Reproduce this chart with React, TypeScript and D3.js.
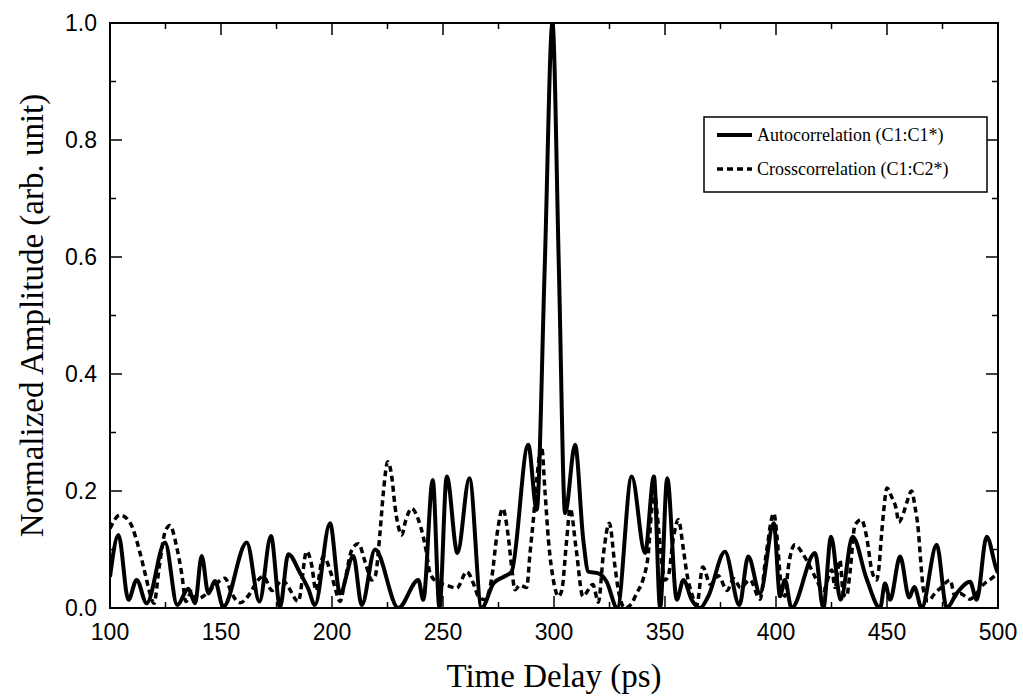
import * as d3 from "d3";

const W = 1023;
const H = 699;
const left = 110;
const right = 998;
const top = 23;
const bottom = 608;

// time delay (ps), normalized amplitude
const autocorrelation: [number, number][] = [
  [100, 0.053], [103.8, 0.125], [108.3, 0.014], [112, 0.048], [116.5, 0.008],
  [124.8, 0.112], [130.3, 0.005], [135.3, 0.033], [138.3, 0.008], [141.3, 0.089],
  [144.3, 0.025], [147.3, 0.046], [151, 0.002], [161.6, 0.112], [167.3, 0.011],
  [172.5, 0.123], [176.6, 0.002], [180.3, 0.092], [185.6, 0.06], [189.3, 0.033],
  [192.3, 0.005], [199.1, 0.145], [203.6, 0.025], [209.6, 0.089], [213.4, 0.005],
  [219.4, 0.1], [229.9, 0.0], [238.9, 0.048], [241.1, 0.014], [245.4, 0.219],
  [248.4, 0.0], [251.7, 0.225], [256.5, 0.094], [261.9, 0.222], [267.4, 0.0],
  [272.7, 0.042], [277.2, 0.053], [280.9, 0.062], [288.4, 0.279], [292.2, 0.168],
  [295.8, 0.58], [299.3, 1.0], [302.2, 0.58], [305, 0.162], [309.5, 0.279],
  [313.2, 0.116], [315.5, 0.062], [320, 0.059], [323.7, 0.045], [328.5, 0.0],
  [335, 0.225], [341, 0.094], [345, 0.225], [347.8, 0.0], [351, 0.222],
  [355.3, 0.014], [358.3, 0.048], [362, 0.014], [365.8, 0.0], [369.5, 0.02],
  [377, 0.096], [383.5, 0.005], [387.5, 0.088], [392.8, 0.025], [399, 0.145],
  [401.8, 0.02], [404, 0.048], [407, 0.0], [417.6, 0.094], [421.3, 0.0],
  [424.8, 0.122], [429.1, 0.014], [434.5, 0.122], [440.8, 0.05], [446.9, 0.0],
  [449.1, 0.042], [451.4, 0.014], [455.9, 0.088], [460, 0.018], [462.3, 0.036],
  [465.6, 0.0], [472.4, 0.108], [476.9, 0.0], [481.4, 0.025], [487.4, 0.045],
  [490.4, 0.014], [494.9, 0.122], [499.4, 0.065], [500, 0.06],
];

const crosscorrelation: [number, number][] = [
  [100, 0.136], [104.5, 0.159], [109, 0.146], [113.2, 0.099], [115.8, 0.059],
  [118, 0.025], [119.8, 0.008], [122.2, 0.071], [124.8, 0.13], [127, 0.141],
  [130, 0.105], [132.3, 0.059], [134.2, 0.011], [136.8, 0.028], [139, 0.014],
  [142, 0.02], [146.5, 0.036], [151.8, 0.051], [154.8, 0.025], [158.6, 0.009],
  [163.1, 0.025], [166.1, 0.045], [169.1, 0.054], [173, 0.03], [177.7, 0.048],
  [180.3, 0.036], [184.8, 0.011], [188.6, 0.097], [190.8, 0.074], [192.8, 0.03],
  [196, 0.088], [199.5, 0.06], [201.4, 0.034], [203.6, 0.011], [205.9, 0.048],
  [208.9, 0.099], [211.9, 0.11], [214.9, 0.079], [217.9, 0.048], [219.5, 0.055],
  [221.6, 0.128], [223.1, 0.196], [225.1, 0.25], [226.9, 0.225], [228.4, 0.173],
  [229.9, 0.139], [231.4, 0.125], [233.3, 0.151], [235.9, 0.17], [238.9, 0.151],
  [241.1, 0.122], [242.6, 0.094], [244.2, 0.059], [247.2, 0.045], [251.7, 0.039],
  [256.2, 0.034], [260.7, 0.062], [263.7, 0.042], [265.9, 0.02], [268.9, 0.014],
  [271.9, 0.05], [274.2, 0.122], [276.9, 0.17], [279.4, 0.122], [280.9, 0.071],
  [282.4, 0.031], [284.7, 0.039], [287.7, 0.035], [289.2, 0.094], [290.7, 0.151],
  [292.2, 0.219], [294.4, 0.276], [296, 0.196], [297.5, 0.116], [299.7, 0.048],
  [302, 0.02], [303.5, 0.03], [305.7, 0.116], [307.3, 0.17], [310, 0.1],
  [313, 0.02], [317.5, 0.04], [320, 0.01], [322.2, 0.09], [324.9, 0.145],
  [327.5, 0.07], [329, 0.03], [332, 0.0], [335, 0.008], [337.2, 0.025],
  [340.2, 0.05], [342.5, 0.094], [344, 0.168], [345.2, 0.2], [346.5, 0.16],
  [348.5, 0.08], [350, 0.048], [351.5, 0.055], [353.8, 0.12], [356, 0.151],
  [358.3, 0.1], [359.8, 0.06], [362, 0.025], [364.3, 0.005], [367, 0.07],
  [370.5, 0.04], [374, 0.055], [378, 0.03], [381, 0.05], [384, 0.035],
  [388.3, 0.048], [392.8, 0.015], [395.5, 0.09], [399, 0.162], [400.5, 0.12],
  [402, 0.05], [404, 0.02], [405.6, 0.071], [408.5, 0.108], [412.3, 0.091],
  [415.3, 0.071], [418.3, 0.048], [421.3, 0.03], [425.1, 0.065], [426.6, 0.035],
  [428.8, 0.082], [430.3, 0.025], [431.8, 0.02], [433.3, 0.06], [435.6, 0.142],
  [438.4, 0.151], [440.8, 0.122], [443.1, 0.065], [445.3, 0.048], [446.1, 0.06],
  [447.6, 0.128], [448.4, 0.162], [450, 0.205], [452.1, 0.19], [454.1, 0.17],
  [455.3, 0.147], [457.4, 0.162], [458.9, 0.18], [461.1, 0.2], [462.6, 0.173],
  [464.1, 0.133], [464.9, 0.094], [465.6, 0.06], [466.4, 0.031], [468.5, 0.012],
  [471.6, 0.025], [474.6, 0.036], [478.4, 0.048], [480.6, 0.02], [482.9, 0.025],
  [487.4, 0.015], [490.4, 0.025], [493.4, 0.04], [497.3, 0.051], [500, 0.06],
];

const xMajor = [100, 150, 200, 250, 300, 350, 400, 450, 500];
const xMinor = [125, 175, 225, 275, 325, 375, 425, 475];
const yMajor = [0, 0.2, 0.4, 0.6, 0.8, 1.0];
const yMinor = [0.1, 0.3, 0.5, 0.7, 0.9];
const legendLabels = ["Autocorrelation (C1:C1*)", "Crosscorrelation (C1:C2*)"];

const x = d3.scaleLinear().domain([100, 500]).range([left, right]);
const y = d3.scaleLinear().domain([0, 1]).range([bottom, top]);

const line = d3
  .line<[number, number]>()
  .x((d) => x(d[0]))
  .y((d) => y(d[1]))
  .curve(d3.curveMonotoneX);

const sans = "'Liberation Sans', Arial, sans-serif";
const serif = "'Liberation Serif', 'Times New Roman', serif";
const major = 12;
const minor = 6;

export default function App() {
  return (
    <svg
      width={W}
      height={H}
      style={{ position: "absolute", left: 0, top: 0, background: "#fff" }}
    >
      <defs>
        <clipPath id="plot">
          <rect x={left} y={top} width={right - left} height={bottom - top} />
        </clipPath>
      </defs>

      <g clipPath="url(#plot)">
        <path
          d={line(crosscorrelation) ?? ""}
          fill="none"
          stroke="#000"
          strokeWidth={3.5}
          strokeDasharray="6,4"
        />
        <path
          d={line(autocorrelation) ?? ""}
          fill="none"
          stroke="#000"
          strokeWidth={4}
          strokeLinejoin="round"
        />
      </g>

      {/* inward ticks on all four sides */}
      {xMajor.concat(xMinor).map((t) => {
        const len = xMajor.includes(t) ? major : minor;
        return (
          <g key={"xt" + t} stroke="#000" strokeWidth={1.5}>
            <line x1={x(t)} x2={x(t)} y1={bottom} y2={bottom - len} />
            <line x1={x(t)} x2={x(t)} y1={top} y2={top + len} />
          </g>
        );
      })}
      {yMajor.concat(yMinor).map((v) => {
        const len = yMajor.includes(v) ? major : minor;
        return (
          <g key={"yt" + v} stroke="#000" strokeWidth={1.5}>
            <line x1={left} x2={left + len} y1={y(v)} y2={y(v)} />
            <line x1={right} x2={right - len} y1={y(v)} y2={y(v)} />
          </g>
        );
      })}

      <rect
        x={left}
        y={top}
        width={right - left}
        height={bottom - top}
        fill="none"
        stroke="#000"
        strokeWidth={2}
      />

      {xMajor.map((t) => (
        <text
          key={"xl" + t}
          x={x(t)}
          y={bottom + 32}
          textAnchor="middle"
          fontFamily={sans}
          fontSize={23}
        >
          {t}
        </text>
      ))}
      {yMajor.map((v) => (
        <text
          key={"yl" + v}
          x={left - 13}
          y={y(v) + 8}
          textAnchor="end"
          fontFamily={sans}
          fontSize={23}
        >
          {d3.format(".1f")(v)}
        </text>
      ))}

      <text
        x={(left + right) / 2}
        y={H - 12}
        textAnchor="middle"
        fontFamily={serif}
        fontSize={33}
      >
        Time Delay (ps)
      </text>
      <text
        transform={`translate(43,${(top + bottom) / 2}) rotate(-90)`}
        textAnchor="middle"
        fontFamily={serif}
        fontSize={33}
      >
        Normalized Amplitude (arb. unit)
      </text>

      <g>
        <rect x={704} y={117} width={283} height={75} fill="#fff" stroke="#000" strokeWidth={1.5} />
        <line x1={717} x2={752} y1={135} y2={135} stroke="#000" strokeWidth={4} />
        <line x1={717} x2={752} y1={169} y2={169} stroke="#000" strokeWidth={3.5} strokeDasharray="6,4" />
        {legendLabels.map((s, i) => (
          <text key={s} x={757} y={141 + i * 34} fontFamily={serif} fontSize={18}>
            {s}
          </text>
        ))}
      </g>
    </svg>
  );
}
